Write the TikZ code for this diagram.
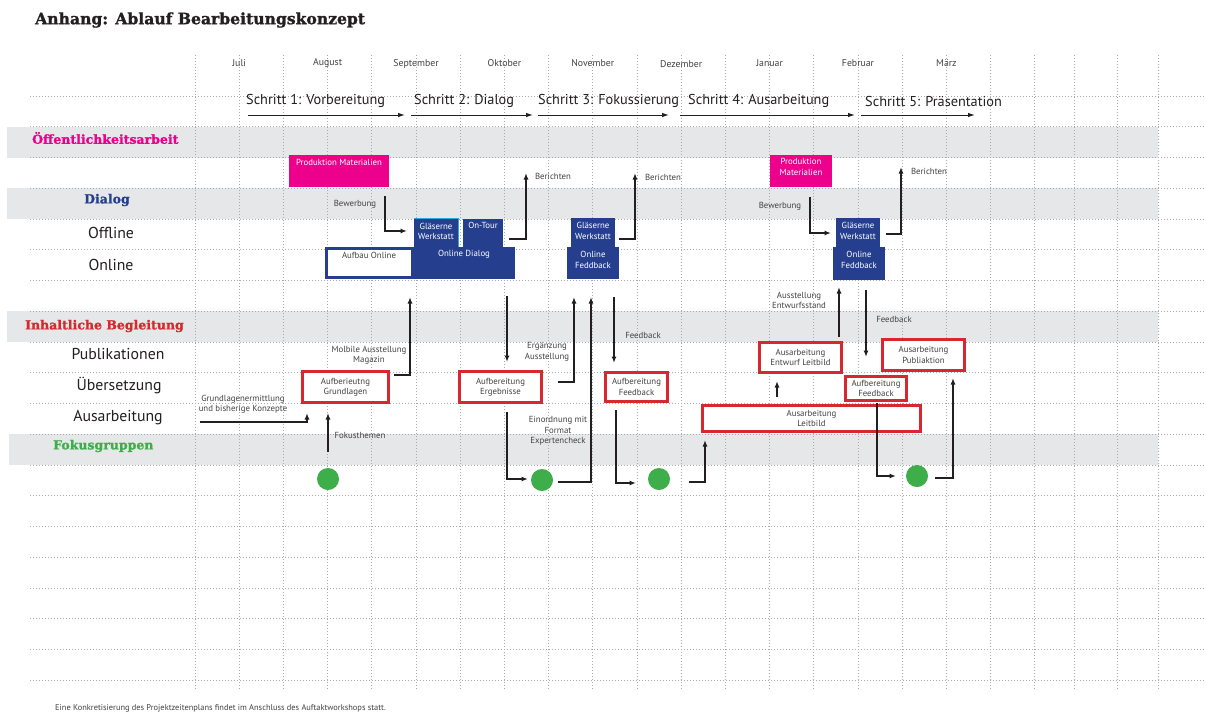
\documentclass[tikz,border=0pt]{standalone}
\usepackage{fontspec}
\setmainfont{PT Sans}
\newfontfamily\slabfont{DejaVu Serif}[BoldFeatures={FakeBold=1.2}]
\usetikzlibrary{arrows.meta}
\definecolor{mag}{HTML}{EC008C}
\definecolor{dblue}{HTML}{253F8E}
\definecolor{rred}{HTML}{D7282F}
\definecolor{ggreen}{HTML}{3DAE49}
\definecolor{bandc}{HTML}{E6E7E8}
\definecolor{gridc}{HTML}{A7A9AC}
\definecolor{ink}{HTML}{231F20}
\definecolor{cyanl}{HTML}{29ABE2}
\begin{document}
\begin{tikzpicture}[x=1pt,y=-1pt,
  gridline/.style={gridc, line width=0.7pt, dash pattern=on 0.9pt off 2.1pt},
  heading/.style={font=\slabfont\bfseries\fontsize{12.5}{14}\selectfont, inner sep=0pt},
  rowlabel/.style={font=\fontsize{15.8}{17}\selectfont, text=ink, inner sep=0pt},
  month/.style={font=\fontsize{9.8}{11}\selectfont, text=ink!85, inner sep=0pt},
  schritt/.style={font=\fontsize{14.3}{16}\selectfont, text=ink, anchor=west, inner sep=0pt},
  small/.style={font=\fontsize{8.8}{10.4}\selectfont, text=ink!85, align=center, inner sep=0pt},
  boxtext/.style={font=\fontsize{8.8}{10.4}\selectfont, text=white, align=center, inner sep=0pt},
  magbox/.style={fill=mag, draw=none, inner sep=0pt},
  bluebox/.style={fill=dblue, draw=none, inner sep=0pt},
  redbox/.style={draw=rred, line width=3pt, fill=white, inner sep=0pt, font=\fontsize{8.8}{10.4}\selectfont, text=ink!85, align=center},
  fgdot/.style={circle, fill=ggreen, minimum size=22pt, inner sep=0pt},
  conn/.style={ink, line width=1.3pt},
  arr/.style={conn, -{Latex[length=6.5pt,width=5pt]}},
]
\useasboundingbox (0,0) rectangle (1205,713);
\fill[white] (0,0) rectangle (1205,713);

% bands
\fill[bandc] (7,126.75) rectangle (1158,157.5);
\fill[bandc] (7,188.25) rectangle (1158,219);
\fill[bandc] (7,311.25) rectangle (1158,342);
\fill[bandc] (9,434.25) rectangle (1158,465);

% grid
\foreach \k in {0,...,19} \draw[gridline] (195+44.2*\k,55) -- (195+44.2*\k,690);
\foreach \xx in {1074,1117,1158} \draw[gridline] (\xx,55) -- (\xx,690);
\foreach \k in {0,...,19} \draw[gridline] (30,96+30.75*\k) -- (1205,96+30.75*\k);

% title
\node[anchor=west, font=\slabfont\bfseries\fontsize{15.6}{18}\selectfont, text=ink, inner sep=0pt] (title) at (35,20) {Anhang: Ablauf Bearbeitungskonzept};

% months
\node[month] (m1) at (239.2,63) {Juli};
\node[month] (m2) at (327.6,63) {August};
\node[month] (m3) at (416,64) {September};
\node[month] (m4) at (504.4,63) {Oktober};
\node[month] (m5) at (592.8,63) {November};
\node[month] (m6) at (681.2,64) {Dezember};
\node[month] (m7) at (769.6,63) {Januar};
\node[month] (m8) at (858,63) {Februar};
\node[month] (m9) at (946.4,63) {März};

% steps
\node[schritt] (s1) at (246,101) {Schritt 1: Vorbereitung};
\node[schritt] (s2) at (414,101) {Schritt 2: Dialog};
\node[schritt] (s3) at (538,101) {Schritt 3: Fokussierung};
\node[schritt] (s4) at (688,101) {Schritt 4: Ausarbeitung};
\node[schritt] (s5) at (865,101) {Schritt 5: Präsentation};
\coordinate (s1a) at (248,115); \coordinate (s1b) at (405,115);
\coordinate (s2a) at (411,115); \coordinate (s2b) at (533,115);
\coordinate (s3a) at (538,115); \coordinate (s3b) at (669,115);
\coordinate (s4a) at (680,115); \coordinate (s4b) at (855,115);
\coordinate (s5a) at (861,115); \coordinate (s5b) at (975,115);
\foreach \a/\b in {s1a/s1b,s2a/s2b,s3a/s3b,s4a/s4b,s5a/s5b}
  \draw[conn, line width=1pt, -{Latex[length=7pt,width=4.5pt]}] (\a) -- (\b);

% headings
\node[heading, anchor=west, text=mag] (hoeff) at (32,138) {Öffentlichkeitsarbeit};
\node[heading, text=dblue] (hdialog) at (107,200) {Dialog};
\node[heading, anchor=west, text=rred] (hinhalt) at (25,326) {Inhaltliche Begleitung};
\node[heading, anchor=west, text=ggreen] (hfokus) at (53,446) {Fokusgruppen};

% row labels
\node[rowlabel] (roff) at (111,233) {Offline};
\node[rowlabel] (ron) at (111,265) {Online};
\node[rowlabel] (rpub) at (118,354) {Publikationen};
\node[rowlabel] (rueb) at (119,386) {Übersetzung};
\node[rowlabel] (raus) at (118,418) {Ausarbeitung};

% magenta boxes
\node[magbox, minimum width=100pt, minimum height=32pt] (pm1) at (339,171) {};
\node[boxtext] (pm1t) at (339,162) {Produktion Materialien};
\node[magbox, minimum width=62pt, minimum height=32pt] (pm2) at (801,171) {};
\node[boxtext] (pm2t) at (801,167) {Produktion\\Materialien};

% blue boxes
\node[bluebox, minimum width=101pt, minimum height=32pt] (od) at (464.5,263) {};
\node[boxtext] (odt) at (464,254) {Online Dialog};
\node[bluebox, minimum width=44pt, minimum height=28pt] (gw1) at (436,233) {};
\node[boxtext] (gw1t) at (436,231.5) {Gläserne\\Werkstatt};
\draw[cyanl, line width=1pt] (gw1.north west) -- (gw1.north east) -- (gw1.south east);
\node[bluebox, minimum width=40pt, minimum height=28pt] (ot) at (483,233) {};
\node[boxtext] (ott) at (483,225) {On-Tour};
\node[draw=dblue, line width=3pt, fill=white, minimum width=86pt, minimum height=29pt, inner sep=0pt] (ao) at (369,263) {};
\node[small] (aot) at (369,255) {Aufbau Online};

\node[bluebox, minimum width=44pt, minimum height=29pt] (gw2) at (593,232.5) {};
\node[boxtext] (gw2t) at (593,231) {Gläserne\\Werkstatt};
\node[bluebox, minimum width=52pt, minimum height=32pt] (of2) at (593,263) {};
\node[boxtext] (of2t) at (593,260) {Online\\Feddback};

\node[bluebox, minimum width=44pt, minimum height=29pt] (gw3) at (858,232.5) {};
\node[boxtext] (gw3t) at (858,231) {Gläserne\\Werkstatt};
\node[bluebox, minimum width=52pt, minimum height=33pt] (of3) at (859,263.5) {};
\node[boxtext] (of3t) at (859,260) {Online\\Feddback};

% red boxes
\node[redbox, minimum width=86pt, minimum height=31pt] (rg) at (345.5,387) {Aufberieutng\\Grundlagen};
\node[redbox, minimum width=82pt, minimum height=31pt] (re) at (500.5,387) {Aufbereitung\\Ergebnisse};
\node[redbox, minimum width=62pt, minimum height=29pt] (rf) at (636.5,387) {Aufbereitung\\Feedback};
\node[redbox, minimum width=218pt, minimum height=26pt] (rl) at (811.5,418.5) {Ausarbeitung\\Leitbild};
\node[redbox, minimum width=82pt, minimum height=30pt] (rel) at (800.5,357.5) {Ausarbeitung\\Entwurf Leitbild};
\node[redbox, minimum width=61pt, minimum height=24pt] (rf2) at (876,388.5) {Aufbereitung\\Feedback};
\node[redbox, minimum width=82pt, minimum height=31pt] (rp) at (923.5,355) {Ausarbeitung\\Publiaktion};

% focus group dots
\node[fgdot] (c1) at (328,479) {};
\node[fgdot] (c2) at (542,480) {};
\node[fgdot] (c3) at (659,479) {};
\node[fgdot] (c4) at (917,476) {};

% small labels
\node[small] (bew1) at (355,204) {Bewerbung};
\node[small] (ber1) at (553,176) {Berichten};
\node[small] (ber2) at (663,177) {Berichten};
\node[small] (bew2) at (780,206) {Bewerbung};
\node[small] (ber3) at (929,171) {Berichten};
\node[small] (mob) at (369,355.5) {Molbile Ausstellung\\Magazin};
\node[small] (grund) at (243,404.5) {Grundlagenermittlung\\und bisherige Konzepte};
\node[small] (fok) at (360,435) {Fokusthemen};
\node[small] (erg) at (547,352) {Ergänzung\\Ausstellung};
\node[small] (einord) at (558,431) {Einordnung mit\\Format\\Expertencheck};
\node[small] (fb1) at (643,335) {Feedback};
\node[small] (ausst) at (799,300.5) {Ausstellung\\Entwurfsstand};
\node[small] (fb2) at (894,319) {Feedback};
\node[small, anchor=west, font=\fontsize{8.4}{10}\selectfont] (foot) at (55,708) {Eine Konkretisierung des Projektzeitenplans findet im Anschluss des Auftaktworkshops statt.};

% connector end points
\coordinate (b1a) at (385,196);   \coordinate (b1b) at (407,231);
\coordinate (r1a) at (509,239);   \coordinate (r1b) at (526,173);
\coordinate (r2a) at (619,239);   \coordinate (r2b) at (635,173);
\coordinate (b2a) at (810,197);   \coordinate (b2b) at (831,233);
\coordinate (r3a) at (886,234);   \coordinate (r3b) at (901,167);
\coordinate (ga) at (200,422);    \coordinate (gb) at (307,413);
\coordinate (fa) at (328,452);    \coordinate (fb) at (328,413);
\coordinate (ma) at (394,375);    \coordinate (mb) at (410,297);
\coordinate (da) at (507,296);    \coordinate (db) at (507,362);
\coordinate (ea) at (558,382);    \coordinate (eb) at (574,297);
\coordinate (ka) at (507,412);    \coordinate (kb) at (528,479);
\coordinate (xa) at (558,482);    \coordinate (xb) at (591,297);
\coordinate (fda) at (614,297);   \coordinate (fdb) at (614,363);
\coordinate (ya) at (616,410);    \coordinate (yb) at (636,483);
\coordinate (za) at (689,482);    \coordinate (zb) at (705,440);
\coordinate (ua) at (777,397);    \coordinate (ub) at (777,381);
\coordinate (aa) at (839,337);    \coordinate (ab) at (839,287);
\coordinate (fea) at (866,290);   \coordinate (feb) at (866,357);
\coordinate (wa) at (877,403);    \coordinate (wb) at (896,476);
\coordinate (va) at (935,478);    \coordinate (vb) at (953,378);

% connectors
\draw[arr] (b1a) |- (b1b);
\draw[arr] (r1a) -| (r1b);
\draw[arr] (r2a) -| (r2b);
\draw[arr] (b2a) |- (b2b);
\draw[arr] (r3a) -| (r3b);
\draw[arr] (ga) -| (gb);
\draw[arr] (fa) -- (fb);
\draw[arr] (ma) -| (mb);
\draw[arr] (da) -- (db);
\draw[arr] (ea) -| (eb);
\draw[arr] (ka) |- (kb);
\draw[arr] (xa) -| (xb);
\draw[arr] (fda) -- (fdb);
\draw[arr] (ya) |- (yb);
\draw[arr] (za) -| (zb);
\draw[arr] (ua) -- (ub);
\draw[arr] (aa) -- (ab);
\draw[arr] (fea) -- (feb);
\draw[arr] (wa) |- (wb);
\draw[arr] (va) -| (vb);
\end{tikzpicture}
\end{document}
